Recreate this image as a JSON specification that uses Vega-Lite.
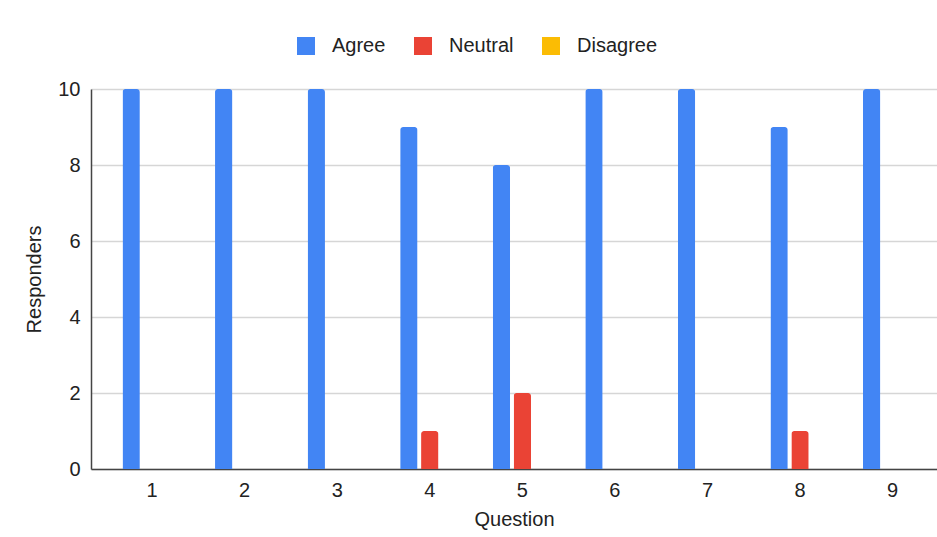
{
  "$schema": "https://vega.github.io/schema/vega-lite/v6.json",
  "width": 846,
  "height": 380,
  "autosize": {"type": "none"},
  "padding": {"left": 91, "top": 89, "right": 0, "bottom": 68},
  "background": "white",
  "config": {
    "font": "Liberation Sans",
    "view": {"stroke": null},
    "axis": {"labelFont": "Liberation Sans", "titleFont": "Liberation Sans", "labelColor": "#222", "titleColor": "#222", "labelFontSize": 20, "titleFontSize": 20, "titleFontWeight": "normal"},
    "legend": {"labelFont": "Liberation Sans", "labelFontSize": 20, "labelColor": "#222"}
  },
  "data": {
    "values": [
      {"Question": "1", "Response": "Agree", "Responders": 10},
      {"Question": "2", "Response": "Agree", "Responders": 10},
      {"Question": "3", "Response": "Agree", "Responders": 10},
      {"Question": "4", "Response": "Agree", "Responders": 9},
      {"Question": "4", "Response": "Neutral", "Responders": 1},
      {"Question": "5", "Response": "Agree", "Responders": 8},
      {"Question": "5", "Response": "Neutral", "Responders": 2},
      {"Question": "6", "Response": "Agree", "Responders": 10},
      {"Question": "7", "Response": "Agree", "Responders": 10},
      {"Question": "8", "Response": "Agree", "Responders": 9},
      {"Question": "8", "Response": "Neutral", "Responders": 1},
      {"Question": "9", "Response": "Agree", "Responders": 10}
    ]
  },
  "mark": {"type": "bar", "cornerRadiusTopLeft": 3, "cornerRadiusTopRight": 3},
  "encoding": {
    "x": {
      "field": "Question", "type": "nominal",
      "scale": {"domain": ["1","2","3","4","5","6","7","8","9"], "paddingInner": 0.36, "paddingOuter": 0.25, "align": 0.68},
      "axis": {"labelAngle": 0, "ticks": false, "labelPadding": 11, "domainColor": "#444", "domainWidth": 1.5, "title": "Question", "titlePadding": 9, "grid": false}
    },
    "xOffset": {
      "field": "Response", "type": "nominal",
      "scale": {"domain": ["Agree", "Neutral", "Disagree"], "paddingInner": 0.17, "paddingOuter": 0}
    },
    "y": {
      "field": "Responders", "type": "quantitative",
      "scale": {"domain": [0, 10]},
      "axis": {"values": [0,2,4,6,8,10], "ticks": false, "labelPadding": 11, "domainColor": "#444", "domainWidth": 1.5, "gridColor": "#d6d6d6", "gridWidth": 1.5, "title": "Responders", "titlePadding": 13}
    },
    "color": {
      "field": "Response", "type": "nominal",
      "scale": {"domain": ["Agree", "Neutral", "Disagree"], "range": ["#4285F4", "#EA4335", "#FBBC04"]},
      "legend": {"title": null, "orient": "none", "direction": "horizontal", "legendX": 205, "legendY": -53, "symbolType": "square", "symbolSize": 324, "symbolStrokeWidth": 0, "symbolOpacity": 1, "labelOffset": 16, "columnPadding": 27, "padding": 0}
    }
  }
}
